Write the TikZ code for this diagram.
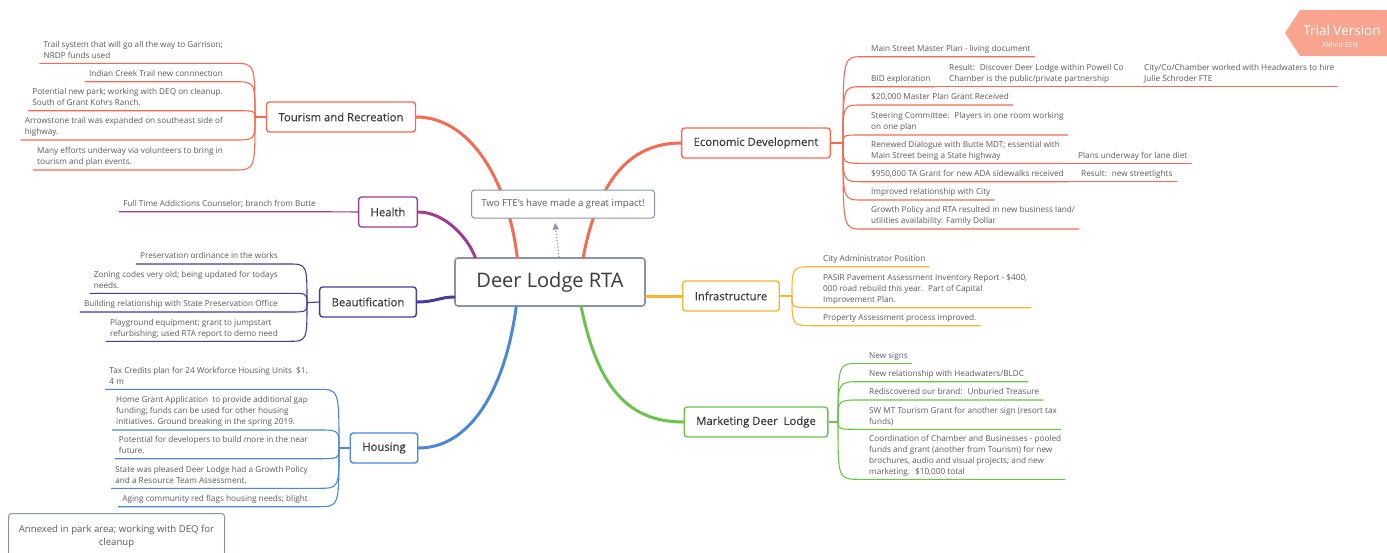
\documentclass[tikz,border=0pt]{standalone}
\usepackage{fontspec}
\setmainfont{Open Sans}
\newfontfamily\topicfont{Open Sans}[FakeBold=0.3]
\usetikzlibrary{arrows.meta}
\definecolor{tourcol}{HTML}{F36B52}
\definecolor{healthcol}{HTML}{A03C8E}
\definecolor{beautcol}{HTML}{4C3B96}
\definecolor{housecol}{HTML}{4A87D6}
\definecolor{infracol}{HTML}{F5B533}
\definecolor{mktcol}{HTML}{6DC24B}
\definecolor{centrecol}{HTML}{8894A6}
\definecolor{leaftext}{HTML}{5A5A5A}
\definecolor{topictext}{HTML}{3A3A3A}
\definecolor{trialcol}{HTML}{F9A48E}
\tikzset{
  topic/.style={draw=#1, line width=1.4pt, rounded corners=3pt, fill=white,
    minimum height=30pt, inner xsep=12pt, text=topictext,
    font=\topicfont\fontsize{11.3}{13}\selectfont},
  leaf/.style={font=\fontsize{8.2}{11}\selectfont, text=leaftext, align=left,
    inner xsep=4pt, inner ysep=3pt, text depth=2pt},
  branch/.style={line width=3pt, line cap=round},
  twig/.style={line width=1.1pt},
}
\begin{document}
\begin{tikzpicture}[x=1pt, y=-1pt]
\useasboundingbox (0,0) rectangle (1387,552);
% centre
\node[draw=centrecol, line width=1.6pt, rounded corners=3pt, fill=white, minimum width=190pt,
  minimum height=48pt, text=topictext, font=\fontsize{20}{24}\selectfont] (centre) at (550,282) {Deer Lodge RTA};

% main topics
\node[topic=tourcol] (tour) at (341,117) {Tourism and Recreation};
\node[topic=healthcol] (health) at (388,212) {Health};
\node[topic=beautcol] (beaut) at (368,302) {Beautification};
\node[topic=housecol] (house) at (384,448) {Housing};
\node[topic=tourcol] (econ) at (756,143) {Economic Development};
\node[topic=infracol] (infra) at (731,296) {Infrastructure};
\node[topic=mktcol] (mkt) at (756,422) {Marketing Deer~ Lodge};

% branches from centre
\draw[branch, tourcol] ([xshift=63pt]centre.north west) .. controls (508,180) and (470,117) .. (tour.east);
\draw[branch, healthcol] ([xshift=21pt]centre.north west) .. controls (468,238) and (445,212) .. (health.east);
\draw[branch, beautcol] ([yshift=-15pt]centre.west) .. controls (440,297) and (435,302) .. (beaut.east);
\draw[branch, housecol] ([xshift=62pt]centre.south west) .. controls (505,390) and (470,448) .. (house.east);
\draw[branch, tourcol] ([xshift=129pt]centre.north west) .. controls (598,180) and (630,143) .. (econ.west);
\draw[branch, infracol] ([yshift=-14pt]centre.east) -- (infra.west);
\draw[branch, mktcol] ([xshift=127pt]centre.south west) .. controls (598,390) and (630,422) .. (mkt.west);

% callout over the branches
\node[draw=centrecol, line width=1pt, rounded corners=3pt, fill=white, minimum width=183pt, minimum height=28pt,
  text=leaftext, font=\fontsize{9.6}{11}\selectfont] (callout) at (563,204) {Two FTE's have made a great impact!};
\draw[centrecol, line width=1.2pt, dotted, -{Latex[length=7pt,width=7pt]}] ([xshift=9pt]centre.north) -- ([xshift=-8pt,yshift=-4pt]callout.south);

% Tourism and Recreation
\coordinate (tourJ) at (255,117);
\node[leaf, anchor=south east] (t1) at (227,63.3) {Trail system that will go all the way to Garrison;\\NRDP funds used};
\node[leaf, anchor=south east] (t2) at (227,81.7) {Indian Creek Trail new connnection};
\node[leaf, anchor=south east] (t3) at (227,110.7) {Potential new park; working with DEQ on cleanup.\\South of Grant Kohrs Ranch.};
\node[leaf, anchor=south east] (t4) at (227,140) {Arrowstone trail was expanded on southeast side of\\highway.};
\node[leaf, anchor=south east] (t5) at (227,170) {Many efforts underway via volunteers to bring in\\tourism and plan events.};
\draw[twig, tourcol] (tour.west) -- (tourJ);
\foreach \n in {t1,t2,t3,t4,t5}
  \draw[twig, tourcol] (tourJ) .. controls (tourJ |- \n.south east) and (tourJ |- \n.south east) .. ([xshift=6pt]\n.south east) -- (\n.south west);

% Health
\node[leaf, anchor=south east] (h1) at (320,211.7) {Full Time Addictions Counselor; branch from Butte};
\draw[twig, healthcol] (health.west) -- (h1.south east) -- (h1.south west);

% Beautification
\coordinate (beautJ) at (307,302.7);
\node[leaf, anchor=south east] (b1) at (282,264) {Preservation ordinance in the works};
\node[leaf, anchor=south east] (b2) at (282,293.3) {Zoning codes very old; being updated for todays\\needs.};
\node[leaf, anchor=south east] (b3) at (282,312) {Building relationship with State Preservation Office};
\node[leaf, anchor=south east] (b4) at (282,341.3) {Playground equipment; grant to jumpstart\\refurbishing; used RTA report to demo need};
\draw[twig, beautcol] (beaut.west) -- (beautJ);
\foreach \n in {b1,b2,b3,b4}
  \draw[twig, beautcol] (beautJ) .. controls (beautJ |- \n.south east) and (beautJ |- \n.south east) .. ([xshift=6pt]\n.south east) -- (\n.south west);

% Housing
\coordinate (houseJ) at (339,448);
\node[leaf, anchor=south east] (o1) at (312,389.3) {Tax Credits plan for 24 Workforce Housing Units~ \$1.\\4 m};
\node[leaf, anchor=south east] (o2) at (312,430) {Home Grant Application~ to provide additional gap\\funding; funds can be used for other housing\\initiatives. Ground breaking in the spring 2019.};
\node[leaf, anchor=south east] (o3) at (312,458.7) {Potential for developers to build more in the near\\future.};
\node[leaf, anchor=south east] (o4) at (312,488.3) {State was pleased Deer Lodge had a Growth Policy\\and a Resource Team Assessment.};
\node[leaf, anchor=south east] (o5) at (312,506.7) {Aging community red flags housing needs; blight};
\draw[twig, housecol] (house.west) -- (houseJ);
\foreach \n in {o1,o2,o3,o4,o5}
  \draw[twig, housecol] (houseJ) .. controls (houseJ |- \n.south east) and (houseJ |- \n.south east) .. ([xshift=6pt]\n.south east) -- (\n.south west);

% Economic Development
\coordinate (econJ) at (843,143);
\node[leaf, anchor=south west] (e1) at (867,56.7) {Main Street Master Plan - living document};
\node[leaf, anchor=south west] (e2) at (867,86.7) {BID exploration};
\node[leaf, anchor=south west] (e2a) at (945,86.7) {Result:~ Discover Deer Lodge within Powell Co\\Chamber is the public/private partnership};
\node[leaf, anchor=south west] (e2b) at (1140,86.7) {City/Co/Chamber worked with Headwaters to hire\\Julie Schroder FTE};
\node[leaf, anchor=south west] (e3) at (867,105) {\$20,000 Master Plan Grant Received};
\node[leaf, anchor=south west] (e4) at (867,135) {Steering Committee:~ Players in one room working\\on one plan};
\node[leaf, anchor=south west] (e5) at (867,163.3) {Renewed Dialogue with Butte MDT; essential with\\Main Street being a State highway};
\node[leaf, anchor=south west] (e5a) at (1074,163.3) {Plans underway for lane diet};
\node[leaf, anchor=south west] (e6) at (867,181.7) {\$950,000 TA Grant for new ADA sidewalks received};
\node[leaf, anchor=south west] (e6a) at (1077,181.7) {Result:~ new streetlights};
\node[leaf, anchor=south west] (e7) at (867,200) {Improved relationship with City};
\node[leaf, anchor=south west] (e8) at (867,229) {Growth Policy and RTA resulted in new business land/\\utilities availability: Family Dollar};
\draw[twig, tourcol] (econ.east) -- (econJ);
\foreach \n in {e1,e2,e3,e4,e5,e6,e7,e8}
  \draw[twig, tourcol] (econJ) .. controls (econJ |- \n.south west) and (econJ |- \n.south west) .. ([xshift=-5pt]\n.south west) -- (\n.south east);
\draw[twig, tourcol] (e2.south east) -- (e2a.south west) -- (e2a.south east) -- (e2b.south west) -- (e2b.south east);
\draw[twig, tourcol] (e5.south east) -- (e5a.south west) -- (e5a.south east);
\draw[twig, tourcol] (e6.south east) -- (e6a.south west) -- (e6a.south east);

% Infrastructure
\coordinate (infraJ) at (792,296);
\node[leaf, anchor=south west] (i1) at (819,266.7) {City Administrator Position};
\node[leaf, anchor=south west] (i2) at (819,307.7) {PASIR Pavement Assessment Inventory Report - \$400,\\000 road rebuild this year.~ Part of Capital\\Improvement Plan.};
\node[leaf, anchor=south west] (i3) at (819,325.7) {Property Assessment process improved.};
\draw[twig, infracol] (infra.east) -- (infraJ);
\foreach \n in {i1,i2,i3}
  \draw[twig, infracol] (infraJ) .. controls (infraJ |- \n.south west) and (infraJ |- \n.south west) .. ([xshift=-5pt]\n.south west) -- (\n.south east);

% Marketing Deer Lodge
\coordinate (mktJ) at (838,422);
\node[leaf, anchor=south west] (m1) at (865,363.3) {New signs};
\node[leaf, anchor=south west] (m2) at (865,381.7) {New relationship with Headwaters/BLDC};
\node[leaf, anchor=south west] (m3) at (865,400) {Rediscovered our brand:~ Unburied Treasure};
\node[leaf, anchor=south west] (m4) at (865,429.3) {SW MT Tourism Grant for another sign (resort tax\\funds)};
\node[leaf, anchor=south west] (m5) at (865,479.3) {Coordination of Chamber and Businesses - pooled\\funds and grant (another from Tourism) for new\\brochures, audio and visual projects; and new\\marketing.~ \$10,000 total};
\draw[twig, mktcol] (mkt.east) -- (mktJ);
\foreach \n in {m1,m2,m3,m4,m5}
  \draw[twig, mktcol] (mktJ) .. controls (mktJ |- \n.south west) and (mktJ |- \n.south west) .. ([xshift=-5pt]\n.south west) -- (\n.south east);

% floating topic
\node[draw=centrecol, line width=1pt, rounded corners=3pt, anchor=north west, minimum width=216pt,
  minimum height=46pt, align=center, text=leaftext, font=\fontsize{9.6}{13}\selectfont] (annex) at (8,513)
  {Annexed in park area; working with DEQ for\\cleanup};

% trial badge
\fill[trialcol] (1285,33) -- (1300,10) -- (1387,10) -- (1387,56) -- (1300,56) -- cycle;
\node[text=white, font=\fontsize{13.5}{15}\selectfont] (trial) at (1342,30) {Trial Version};
\node[text=white, font=\fontsize{7}{8}\selectfont] (xmind) at (1340,45) {XMind·ZEN};
\end{tikzpicture}
\end{document}
